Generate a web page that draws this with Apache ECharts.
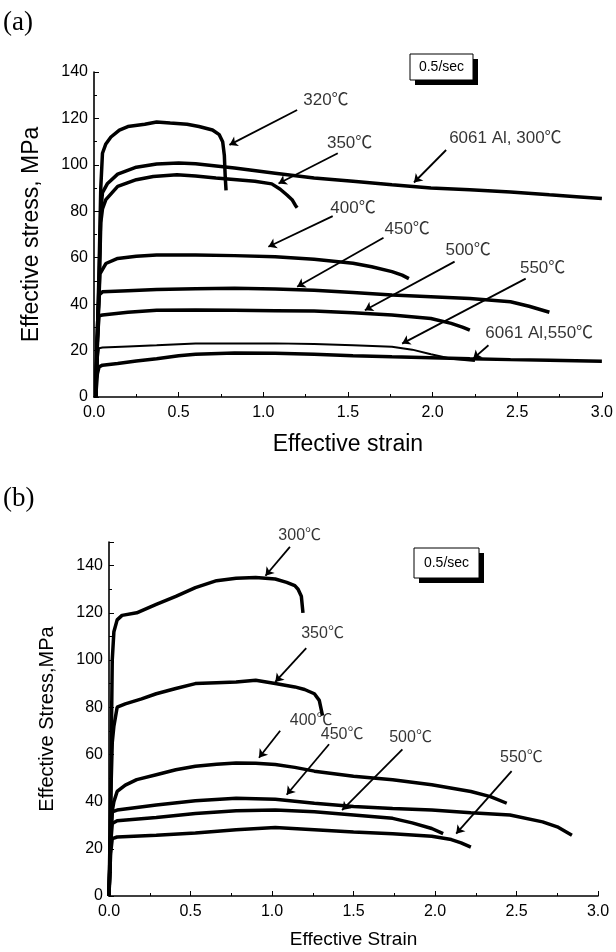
<!DOCTYPE html>
<html>
<head>
<meta charset="utf-8">
<script src="https://cdn.jsdelivr.net/npm/echarts@6/dist/echarts.min.js"></script>
<style>
  html, body { margin: 0; padding: 0; background: #fff; }
  #chart { width: 616px; height: 952px; }
</style>
</head>
<body>
<div id="chart"></div>
<script>
// (a) curves: [strain, stress MPa]
const a320 = [[0.01,0],[0.03,55],[0.04,90],[0.05,105],[0.07,109],[0.1,112],[0.15,115],[0.2,116.5],[0.3,117.5],[0.37,118.5],[0.45,118],[0.55,117.5],[0.62,116.5],[0.7,115],[0.74,113],[0.76,110],[0.77,104],[0.775,95],[0.78,89]]
const a300Al = [[0.01,0],[0.03,50],[0.04,80],[0.05,88],[0.08,92],[0.14,96],[0.25,99],[0.37,100.4],[0.5,100.8],[0.6,100.5],[0.83,98.6],[1.07,96.4],[1.3,94.3],[1.53,92.9],[1.76,91.4],[1.99,90],[2.22,89.3],[2.46,88.3],[2.69,87.1],[2.85,86.3],[3.0,85.5]]
const a350 = [[0.01,0],[0.03,45],[0.04,75],[0.05,81],[0.07,85],[0.14,90.7],[0.25,93.6],[0.35,95],[0.49,95.7],[0.6,95.2],[0.72,94.3],[0.95,92.9],[1.05,91.8],[1.1,89.5],[1.14,87],[1.17,85],[1.19,82.5],[1.2,81.5]]
const a400 = [[0.01,0],[0.025,35],[0.035,53],[0.07,57.5],[0.14,59.7],[0.25,60.6],[0.37,61.2],[0.6,61.2],[0.83,60.9],[1.07,60.4],[1.3,59.3],[1.53,57.6],[1.64,56.1],[1.76,54],[1.82,52.5],[1.86,51]]
const a450 = [[0.01,0],[0.02,30],[0.03,44],[0.05,45.3],[0.2,45.8],[0.37,46.3],[0.6,46.6],[0.83,46.8],[1.07,46.5],[1.3,46],[1.53,45],[1.76,43.9],[1.99,43.2],[2.22,42.4],[2.46,41],[2.57,39.1],[2.63,37.8],[2.69,36.5]]
const a500 = [[0.01,0],[0.02,25],[0.03,35],[0.05,35.3],[0.2,36.5],[0.37,37.4],[0.6,37.5],[0.83,37.4],[1.07,37.2],[1.3,37],[1.53,36.3],[1.76,35.3],[1.99,33.8],[2.11,31.7],[2.18,30],[2.22,28.8]]
const a550 = [[0.01,0],[0.02,15],[0.03,21],[0.05,21.3],[0.2,21.8],[0.37,22.3],[0.6,23],[0.83,23.1],[1.07,23.1],[1.3,22.8],[1.53,22.3],[1.76,21.6],[1.88,20.4],[1.99,18.4],[2.11,16.5],[2.25,15.5]]
const a550Al = [[0.01,0],[0.02,10],[0.03,13],[0.05,13.7],[0.14,14.4],[0.25,15.5],[0.37,16.5],[0.5,17.8],[0.6,18.4],[0.83,19],[1.07,18.8],[1.3,18.4],[1.53,17.8],[1.76,17.3],[1.99,16.9],[2.22,16.5],[2.46,16.1],[2.69,15.8],[3.0,15.4]]

// (b) curves
const b300 = [[0.0,0],[0.01,30],[0.015,70],[0.02,100],[0.03,112],[0.05,117],[0.08,118.9],[0.17,120],[0.29,123.6],[0.41,127],[0.53,130.7],[0.66,133.6],[0.78,134.6],[0.9,135],[1.02,134.3],[1.09,132.9],[1.14,131.5],[1.16,130],[1.18,127],[1.19,120]]
const b350 = [[0.0,0],[0.01,40],[0.02,65],[0.03,72],[0.05,80],[0.1,81.4],[0.2,83.5],[0.29,85.7],[0.41,87.9],[0.53,90],[0.66,90.4],[0.78,90.7],[0.9,91.4],[1.02,90],[1.14,88.6],[1.2,87.5],[1.26,85.7],[1.29,82.9],[1.31,76.4]]
const b400 = [[0.0,0],[0.01,25],[0.02,36],[0.03,40],[0.05,44.3],[0.1,47],[0.17,49.3],[0.29,51.4],[0.41,53.5],[0.53,55],[0.66,55.8],[0.78,56.4],[0.9,56.2],[1.02,55.7],[1.14,54.5],[1.26,52.9],[1.5,50.7],[1.74,49.3],[1.98,47.1],[2.22,44.3],[2.34,42.1],[2.44,39.3]]
const b450 = [[0.0,0],[0.01,25],[0.02,35.7],[0.05,36.4],[0.17,37.5],[0.29,38.6],[0.53,40.4],[0.78,41.4],[1.02,41],[1.26,39.3],[1.5,37.9],[1.74,37.1],[1.98,36.4],[2.22,35.3],[2.46,34.3],[2.66,31.4],[2.75,29.3],[2.84,25.7]]
const b500 = [[0.0,0],[0.01,22],[0.02,30.7],[0.05,31.9],[0.29,33.3],[0.53,35],[0.78,36.1],[1.02,36.4],[1.26,35.7],[1.5,34.3],[1.74,32.9],[1.86,31],[1.98,28.6],[2.05,26.4]]
const b550 = [[0.0,0],[0.01,18],[0.02,24.3],[0.05,25],[0.29,25.7],[0.53,26.7],[0.78,28.1],[1.02,29],[1.26,28.1],[1.5,27.1],[1.74,26.4],[1.98,25.3],[2.1,23.9],[2.16,22.5],[2.22,20.7]]

// labels: [text, x, y] and arrows: [x1, y1, x2, y2] in data units
const labelsA = [['320℃',1.37,128],['350℃',1.51,109.3],['6061 Al, 300℃',2.43,111.4],['400℃',1.53,81.4],['450℃',1.85,72.1],['500℃',2.21,63.3],['550℃',2.65,55.4],['6061 Al,550℃',2.63,27.3]]
const arrowsA = [[1.2,123.6,0.8,108.6],[1.44,105,1.09,92],[2.08,106.4,1.89,92.4],[1.41,77.9,1.03,64.7],[1.71,68.6,1.2,47.5],[2.13,58.3,1.6,37.4],[2.55,51,1.82,23],[2.33,22.3,2.24,16.5]]
const labelsB = [['300℃',1.17,152.9],['350℃',1.31,111.4],['400℃',1.24,74.3],['450℃',1.43,68.6],['500℃',1.85,67.1],['550℃',2.53,58.6]]
const arrowsB = [[1.11,147.9,0.96,135.7],[1.21,105,1.02,90.7],[1.05,70,0.92,58.6],[1.35,64.3,1.09,42.9],[1.8,62.1,1.43,36.4],[2.47,52.9,2.13,26.4]]

const font = 'Liberation Sans, Arial, Noto Sans CJK SC, sans-serif'

const curve = (data, idx, width) => ({
  type: 'line', data: data, xAxisIndex: idx, yAxisIndex: idx,
  showSymbol: false, symbol: 'none', silent: true,
  lineStyle: { color: '#000', width: width }
})

const arrowSeries = (arr, idx) => ({
  type: 'lines', coordinateSystem: 'cartesian2d', xAxisIndex: idx, yAxisIndex: idx,
  symbol: ['none', 'arrow'], symbolSize: 8, silent: true, clip: false,
  lineStyle: { color: '#000', width: 1.8, opacity: 1 },
  data: arr.map(a => ({ coords: [[a[0], a[1]], [a[2], a[3]]] }))
})

const labelSeries = (arr, idx, size) => ({
  type: 'scatter', xAxisIndex: idx, yAxisIndex: idx, symbolSize: 1, clip: false, silent: true,
  itemStyle: { color: 'rgba(0,0,0,0)' },
  label: { show: true, position: 'inside', formatter: p => p.data[2], color: '#000', fontSize: size, fontFamily: font },
  data: arr.map(a => [a[1], a[2], a[0]])
})

const xAx = (idx, name, gap, nameSize) => ({
  gridIndex: idx, type: 'value', min: 0, max: 3, interval: 0.5,
  name: name, nameLocation: 'middle', nameGap: gap,
  nameTextStyle: { fontSize: nameSize, fontFamily: font, color: '#000' },
  axisLine: { onZero: false, lineStyle: { color: '#000', width: 1.6 } },
  axisTick: { inside: true, length: 5, lineStyle: { color: '#000' } },
  minorTick: { show: true, splitNumber: 2, length: 3, lineStyle: { color: '#000' } },
  axisLabel: { formatter: v => v.toFixed(1), fontSize: 16, fontFamily: font, color: '#000', margin: 8 },
  splitLine: { show: false }
})

const yAx = (idx, max, name, gap, nameSize) => ({
  gridIndex: idx, type: 'value', min: 0, max: max, interval: 20,
  name: name, nameLocation: 'middle', nameGap: gap,
  nameTextStyle: { fontSize: nameSize, fontFamily: font, color: '#000' },
  axisLine: { show: true, onZero: false, lineStyle: { color: '#000', width: 1.6 } },
  axisTick: { inside: true, length: 5, lineStyle: { color: '#000' } },
  minorTick: { show: true, splitNumber: 2, length: 3, lineStyle: { color: '#000' } },
  axisLabel: { fontSize: 16, fontFamily: font, color: '#000', margin: 6, showMaxLabel: max === 140 },
  splitLine: { show: false }
})

const box = (x, y, w, h) => ([
  { type: 'rect', shape: { x: x + 5, y: y + 5, width: w, height: h }, style: { fill: '#000' } },
  { type: 'rect', shape: { x: x, y: y, width: w, height: h }, style: { fill: '#fff', stroke: '#000', lineWidth: 1 } },
  { type: 'text', x: x + w / 2, y: y + h / 2, style: { text: '0.5/sec', font: '14px ' + font, fill: '#000', align: 'center', verticalAlign: 'middle' } }
])

const chart = echarts.init(document.getElementById('chart'))
chart.setOption({
  animation: false,
  backgroundColor: '#fff',
  grid: [
    { left: 94, right: 13, top: 72, height: 325 },
    { left: 109, right: 18, top: 542, height: 354 }
  ],
  xAxis: [xAx(0, 'Effective strain', 36, 23), xAx(1, 'Effective Strain', 34, 19)],
  yAxis: [yAx(0, 140, 'Effective stress, MPa', 51, 23), yAx(1, 150, 'Effective Stress,MPa', 52, 20)],
  graphic: [
    { type: 'text', left: 3, top: 9, style: { text: '(a)', font: '27px Liberation Serif, DejaVu Serif, serif', fill: '#000' } },
    { type: 'text', left: 3, top: 485, style: { text: '(b)', font: '27px Liberation Serif, DejaVu Serif, serif', fill: '#000' } },
    ...box(410, 54, 63, 26),
    ...box(414, 548, 65, 30)
  ],
  series: [
    curve(a320, 0, 3.5), curve(a300Al, 0, 3.5), curve(a350, 0, 3.5), curve(a400, 0, 3.5),
    curve(a450, 0, 3.5), curve(a500, 0, 3.5), curve(a550, 0, 2), curve(a550Al, 0, 3.5),
    curve(b300, 1, 3.5), curve(b350, 1, 3.5), curve(b400, 1, 3.5),
    curve(b450, 1, 3.5), curve(b500, 1, 3.5), curve(b550, 1, 3.5),
    arrowSeries(arrowsA, 0), arrowSeries(arrowsB, 1),
    labelSeries(labelsA, 0, 17), labelSeries(labelsB, 1, 16)
  ]
})
</script>
</body>
</html>
